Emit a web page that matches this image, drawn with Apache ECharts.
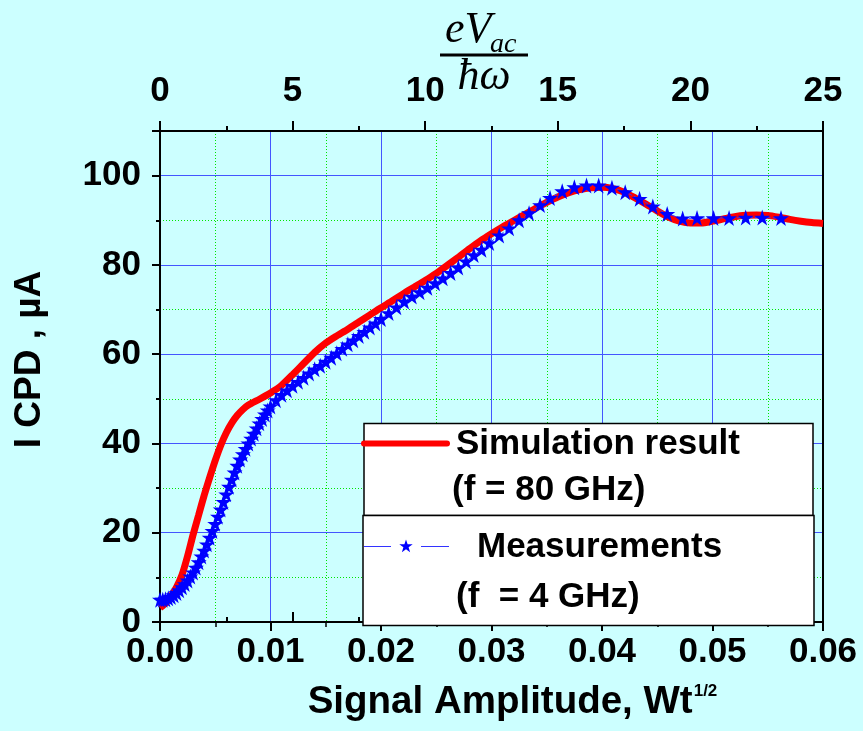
<!DOCTYPE html>
<html>
<head>
<meta charset="utf-8">
<script src="https://cdn.jsdelivr.net/npm/echarts@6/dist/echarts.min.js"></script>
<style>
html,body{margin:0;padding:0;background:#ccffff;}
#chart{width:863px;height:731px;}
</style>
</head>
<body>
<div id="chart"></div>
<script>
// ---- data ----
const measX = [0,0.00025,0.0005,0.00075,0.001,0.00125,0.0015,0.00175,0.002,0.00225,0.0025,0.00275,0.003,0.00325,0.0035,0.00375,0.004,0.00425,0.0045,0.00475,0.005,0.00525,0.0055,0.00575,0.006,0.00625,0.0065,0.00675,0.007,0.00725,0.0075,0.00775,0.008,0.00825,0.0085,0.00875,0.009,0.00925,0.0095,0.00975,
0.010,0.0105,0.011,0.0115,0.012,0.0125,0.013,0.0135,0.014,0.0145,0.015,0.0155,0.016,0.0165,0.017,0.0175,0.018,0.0185,0.019,0.0195,
0.0200,0.0207,0.0214,0.0221,0.0228,0.0235,0.0242,0.0249,0.0256,0.0263,0.0270,0.0277,0.0284,
0.0291,0.0298,0.0307,0.0316,0.0325,0.0334,0.0344,0.0353,0.0364,0.0375,0.0386,0.0397,0.0409,0.0421,0.0434,0.0446,0.0459,0.0473,0.0486,0.0501,0.0515,0.0530,0.0545,0.0562];
const measY = [5.0,5.0,5.1,5.3,5.6,6.0,6.5,7.1,7.8,8.5,9.3,10.2,11.1,12.2,13.4,14.7,16.0,17.4,18.9,20.4,22.0,23.6,25.2,26.9,28.6,30.3,31.9,33.5,35.0,36.4,37.6,38.8,40.0,41.1,42.2,43.4,44.5,45.5,46.5,47.4,
48.3,49.7,50.9,51.9,52.9,53.8,54.7,55.7,56.6,57.4,58.3,59.2,60.2,61.2,62.2,63.1,64.1,65.0,66.0,66.9,
67.9,69.2,70.5,71.8,72.9,73.9,74.9,75.9,77.0,78.2,79.4,80.8,82.2,
83.4,84.9,86.6,88.2,90.0,91.6,93.4,95.0,96.5,97.4,97.8,97.8,97.3,96.3,94.8,93.1,91.4,90.4,90.5,90.5,90.5,90.6,90.6,90.5];

const simX = [0,0.0005,0.001,0.0015,0.002,0.0025,0.003,0.0035,0.004,0.0045,0.005,0.0055,0.006,0.0065,0.007,0.0075,0.008,0.009,0.010,0.011,0.012,0.013,0.014,0.015,0.016,0.017,0.018,0.019,0.020,0.021,0.022,0.023,0.024,0.025,0.026,0.027,0.028,0.029,0.030,0.031,0.032,0.033,0.034,0.035,0.036,0.037,0.038,0.039,0.040,0.041,0.042,0.043,0.044,0.045,0.046,0.047,0.048,0.049,0.050,0.051,0.052,0.053,0.054,0.055,0.056,0.057,0.058,0.059,0.060];
const simY = [3.2,4.2,5.8,7.8,10.6,14.8,19.6,24.0,28.4,32.4,36.2,39.6,42.4,44.6,46.3,47.6,48.6,49.9,51.3,53.0,55.4,57.9,60.4,62.5,64.1,65.6,67.2,68.8,70.4,71.9,73.5,75.0,76.5,78.1,79.9,81.7,83.6,85.4,87.0,88.5,89.9,91.3,92.7,94.0,95.2,96.2,96.9,97.3,97.4,97.1,96.3,95.0,93.6,92.1,90.7,89.8,89.4,89.4,89.8,90.3,90.8,91.1,91.2,91.1,90.7,90.2,89.8,89.5,89.3];

const seriesNames = ['Simulation result', 'Measurements'];
const legendSub = ['(f = 80 GHz)', '(f  = 4 GHz)'];
const xTitle = 'Signal Amplitude, Wt';
const xTitleSup = '1/2';
const yTitle = 'I CPD , \u00b5A';

// ---- styling ----
const FONT = '"Liberation Sans", Arial, sans-serif';
const SERIF = '"Liberation Serif", "Times New Roman", serif';
const BLUE_GRID = '#4455ff';
const GREEN_GRID = '#00e600';
const STAR = 'path://M50,0 L61.2,34.5 L97.6,34.5 L68.2,55.9 L79.4,90.5 L50,69.1 L20.6,90.5 L31.8,55.9 L2.4,34.5 L38.8,34.5 Z';

const G = {left:160, top:131, right:40, bottom:109};
const gridH = 731 - G.top - G.bottom;

const labelStyle = {color:'#000', fontFamily:FONT, fontWeight:'bold', fontSize:35};

const chart = echarts.init(document.getElementById('chart'), null, {renderer:'canvas'});
chart.setOption({
  backgroundColor:'#ccffff',
  animation:false,
  grid:{left:G.left, top:G.top, right:G.right, bottom:G.bottom, containLabel:false},
  xAxis:[
    { type:'value', position:'bottom', min:0, max:0.06, interval:0.01,
      axisLine:{show:true, onZero:false, lineStyle:{color:'#000', width:2}},
      axisTick:{show:true, length:9, lineStyle:{color:'#000', width:2}},
      minorTick:{show:true, splitNumber:2, length:5, lineStyle:{color:'#000', width:1.5}},
      splitLine:{show:true, lineStyle:{color:BLUE_GRID, width:1}},
      minorSplitLine:{show:true, lineStyle:{color:GREEN_GRID, width:1, type:[1,2]}},
      axisLabel:Object.assign({margin:13, formatter:v=>v.toFixed(2)}, labelStyle),
      name:xTitle + '{sup|' + xTitleSup + '}', nameLocation:'middle', nameGap:61,
      nameTextStyle:{color:'#000', fontFamily:FONT, fontWeight:'bold', fontSize:38.5, padding:[0,0,0,42],
        rich:{sup:{fontFamily:FONT, fontWeight:'bold', fontSize:17, verticalAlign:'top', color:'#000', padding:[0,0,10,1]}}}
    },
    { type:'value', position:'top', min:0, max:25, interval:5,
      axisLine:{show:true, onZero:false, lineStyle:{color:'#000', width:2}},
      axisTick:{show:true, length:10, lineStyle:{color:'#000', width:2}},
      minorTick:{show:true, splitNumber:2, length:5, lineStyle:{color:'#000', width:2}},
      splitLine:{show:false},
      axisLabel:Object.assign({margin:22}, labelStyle)
    },
    { type:'value', position:'top', offset:-gridH, min:0, max:25, interval:5,
      axisLine:{show:false, onZero:false},
      axisTick:{show:true, length:10, lineStyle:{color:'#000', width:2}},
      minorTick:{show:true, splitNumber:2, length:5, lineStyle:{color:'#000', width:2}},
      splitLine:{show:false},
      axisLabel:{show:false}
    }
  ],
  yAxis:[
    { type:'value', position:'left', min:0, max:110, interval:20,
      axisLine:{show:true, onZero:false, lineStyle:{color:'#000', width:2}},
      axisTick:{show:true, length:8, lineStyle:{color:'#000', width:2}},
      minorTick:{show:true, splitNumber:2, length:4, lineStyle:{color:'#000', width:2}},
      splitLine:{show:true, lineStyle:{color:BLUE_GRID, width:1}},
      axisLabel:Object.assign({margin:19, showMaxLabel:false}, labelStyle),
      name:yTitle, nameLocation:'middle', nameGap:112, nameRotate:90,
      nameTextStyle:{color:'#000', fontFamily:FONT, fontWeight:'bold', fontSize:37, padding:[0,0,0,34]}
    },
    { type:'value', position:'right', min:0, max:110, interval:10,
      axisLine:{show:true, onZero:false, lineStyle:{color:'#000', width:2}},
      axisTick:{show:false}, axisLabel:{show:false},
      splitLine:{show:true, lineStyle:{color:['rgba(0,0,0,0)', GREEN_GRID], width:1, type:[1,2]}}
    }
  ],
  series:[
    { name:seriesNames[0], type:'line', xAxisIndex:0, yAxisIndex:0,
      data:simX.map((x,i)=>[x, simY[i]]), smooth:0.2, showSymbol:false,
      lineStyle:{color:'#ff0000', width:7}, itemStyle:{color:'#ff0000'}, z:2 },
    { name:seriesNames[1], type:'line', xAxisIndex:0, yAxisIndex:0,
      data:measX.map((x,i)=>[x, measY[i]]), symbol:STAR, symbolSize:16, showSymbol:true,
      itemStyle:{color:'#0000ff'}, lineStyle:{color:'#3333ff', width:1, type:'dashed'}, z:3 }
  ],
  graphic:[
    // top axis fraction title eV_ac / ħω
    {type:'text', z:50, style:{text:'eV', x:445, y:30, font:'italic 44px ' + SERIF, fill:'#000', verticalAlign:'middle'}},
    {type:'text', z:50, style:{text:'ac', x:490, y:45, font:'italic 28px ' + SERIF, fill:'#000', verticalAlign:'middle'}},
    {type:'line', z:50, shape:{x1:440, y1:55, x2:528, y2:55}, style:{stroke:'#000', lineWidth:3}},
    {type:'text', z:50, style:{text:'\u0127\u03c9', x:484, y:77, font:'italic 44px ' + SERIF, fill:'#000', align:'center', verticalAlign:'middle'}},
    // legend box 1
    {type:'rect', z:100, shape:{x:364, y:423.5, width:449, height:92}, style:{fill:'#fff', stroke:'#000', lineWidth:1.5}},
    {type:'line', z:101, shape:{x1:364, y1:443.5, x2:447, y2:443.5}, style:{stroke:'#ff0000', lineWidth:6, lineCap:'round'}},
    {type:'text', z:101, style:{text:seriesNames[0], x:456, y:444, font:'bold 35px ' + FONT, fill:'#000', verticalAlign:'middle'}},
    {type:'text', z:101, style:{text:legendSub[0], x:452, y:490, font:'bold 35px ' + FONT, fill:'#000', verticalAlign:'middle'}},
    // legend box 2
    {type:'rect', z:100, shape:{x:363, y:515.5, width:451, height:110}, style:{fill:'#fff', stroke:'#000', lineWidth:1.5}},
    {type:'line', z:101, shape:{x1:364, y1:546.5, x2:391, y2:546.5}, style:{stroke:'#3333ff', lineWidth:1}},
    {type:'line', z:101, shape:{x1:421, y1:546.5, x2:449, y2:546.5}, style:{stroke:'#3333ff', lineWidth:1}},
    {type:'polygon', z:101, shape:{points:[[406,539.5],[407.6,544.3],[412.7,544.3],[408.6,547.3],[410.1,552.2],[406,549.2],[401.9,552.2],[403.4,547.3],[399.3,544.3],[404.4,544.3]]}, style:{fill:'#0000ff'}},
    {type:'text', z:101, style:{text:seriesNames[1], x:477, y:547, font:'bold 35px ' + FONT, fill:'#000', verticalAlign:'middle'}},
    {type:'text', z:101, style:{text:legendSub[1], x:456, y:597, font:'bold 35px ' + FONT, fill:'#000', verticalAlign:'middle', whiteSpace:'pre'}}
  ]
});
</script>
</body>
</html>
